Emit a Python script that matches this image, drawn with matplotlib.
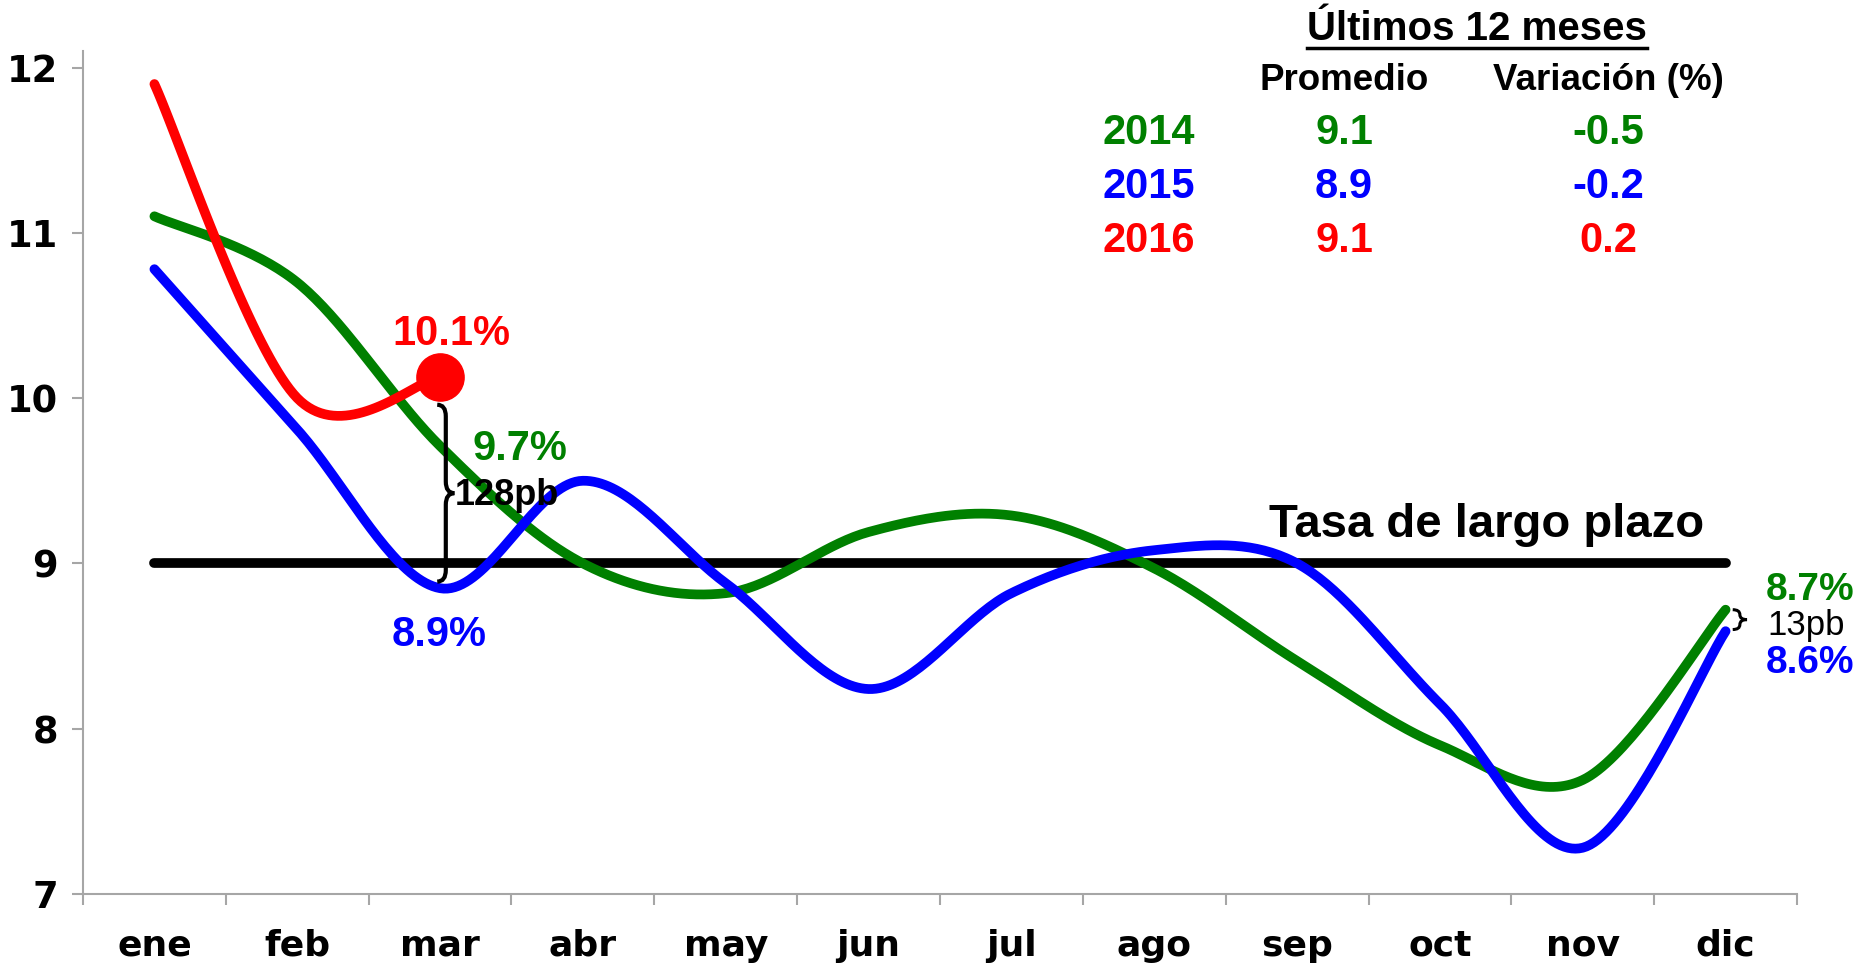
import numpy as np
import matplotlib
matplotlib.use('Agg')
import matplotlib.pyplot as plt
from matplotlib.path import Path
from matplotlib.patches import PathPatch
from matplotlib.lines import Line2D

# Data
meses = ['ene', 'feb', 'mar', 'abr', 'may', 'jun', 'jul', 'ago', 'sep', 'oct', 'nov', 'dic']
tasa_2014 = [11.1, 10.7, 9.71, 9.0, 8.82, 9.19, 9.29, 8.97, 8.41, 7.9, 7.69, 8.72]
tasa_2015 = [10.78, 9.81, 8.85, 9.5, 8.88, 8.24, 8.82, 9.08, 9.0, 8.15, 7.28, 8.59]
tasa_2016 = [11.9, 10.0, 10.13]
tasa_largo_plazo = 9.0

anios = ['2014', '2015', '2016']
promedio = ['9.1', '8.9', '9.1']
variacion = ['-0.5', '-0.2', '0.2']
colores = ['#008000', '#0000ff', '#ff0000']

W, H = 1866, 969
font = 'Liberation Sans'


def smooth(xs, ys, n=40):
    # Excel-like smoothed line (Catmull-Rom as cubic Bezier)
    pts = np.column_stack([xs, ys]).astype(float)
    out = [pts[0]]
    for i in range(len(pts) - 1):
        p0 = pts[max(i - 1, 0)]
        p1 = pts[i]
        p2 = pts[i + 1]
        p3 = pts[min(i + 2, len(pts) - 1)]
        c1 = p1 + (p2 - p0) / 6
        c2 = p2 - (p3 - p1) / 6
        t = np.linspace(0, 1, n)[1:, None]
        seg = (1 - t)**3 * p1 + 3 * (1 - t)**2 * t * c1 + 3 * (1 - t) * t**2 * c2 + t**3 * p2
        out.extend(seg)
    out = np.array(out)
    return out[:, 0], out[:, 1]


def brace(ax, x0, ytop, ybot, w, r, lw):
    ym = (ytop + ybot) / 2
    verts = [(x0 - w, ytop), (x0, ytop), (x0, ytop - r), (x0, ym + r),
             (x0, ym), (x0 + w, ym), (x0, ym), (x0, ym - r),
             (x0, ybot + r), (x0, ybot), (x0 - w, ybot)]
    codes = [Path.MOVETO, Path.CURVE3, Path.CURVE3, Path.LINETO,
             Path.CURVE3, Path.CURVE3, Path.CURVE3, Path.CURVE3,
             Path.LINETO, Path.CURVE3, Path.CURVE3]
    ax.add_patch(PathPatch(Path(verts, codes), facecolor='none',
                           edgecolor='black', lw=lw, zorder=6))


fig = plt.figure(figsize=(W / 100, H / 100), dpi=100)
ax = fig.add_axes([83 / W, 1 - 894 / H, (1797 - 83) / W, (894 - 51) / H])

x = np.arange(len(meses))
lw = 7

ax.plot([0, len(meses) - 1], [tasa_largo_plazo, tasa_largo_plazo], color='black',
        lw=lw, solid_capstyle='round', zorder=2)
for serie, col, z in [(tasa_2014, colores[0], 3), (tasa_2015, colores[1], 4), (tasa_2016, colores[2], 5)]:
    sx, sy = smooth(x[:len(serie)], serie)
    ax.plot(sx, sy, color=col, lw=lw, solid_capstyle='round', zorder=z)

ax.plot(len(tasa_2016) - 1, tasa_2016[-1], 'o', color='#ff0000', markersize=34, zorder=6)

ax.set_xlim(-0.5, 11.5)
ax.set_ylim(7, 12.1)
ax.set_yticks([7, 8, 9, 10, 11, 12])
ax.set_xticks(x)
ax.set_xticklabels(meses)
ax.set_xticks(np.arange(-0.5, 12, 1), minor=True)

for s in ['top', 'right']:
    ax.spines[s].set_visible(False)
for s in ['left', 'bottom']:
    ax.spines[s].set_color('#a6a6a6')
    ax.spines[s].set_linewidth(1.5)

ax.tick_params(axis='x', which='major', length=0, pad=25)
ax.tick_params(axis='x', which='minor', length=8, width=1.5, color='#a6a6a6', direction='out')
ax.tick_params(axis='y', length=8, width=1.5, color='#a6a6a6', direction='out', pad=10)
for lab in ax.get_xticklabels():
    lab.set_fontfamily('DejaVu Sans')
    lab.set_fontweight('bold')
    lab.set_fontsize(26)
for lab in ax.get_yticklabels():
    lab.set_fontfamily('DejaVu Sans')
    lab.set_fontweight('bold')
    lab.set_fontsize(26.5)

# Annotations
ax.text(2.08, 10.385, '10.1%', color='#ff0000', fontsize=30, fontweight='bold', family=font,
        ha='center', va='center', zorder=7)
ax.text(2.56, 9.695, '9.7%', color='#008000', fontsize=30, fontweight='bold', family=font,
        ha='center', va='center', zorder=7)
ax.text(1.99, 8.565, '8.9%', color='#0000ff', fontsize=30, fontweight='bold', family=font,
        ha='center', va='center', zorder=7)
ax.text(2.1, 9.41, '128pb', color='black', fontsize=26, fontweight='bold', family=font,
        ha='left', va='center', zorder=7)
brace(ax, 2.04, 9.96, 8.89, 0.06, 0.07, 3)

ax.text(9.33, 9.235, 'Tasa de largo plazo', color='black', fontsize=34, fontweight='bold',
        family=font, ha='center', va='center', zorder=7)

ax.text(11.28, 8.84, '8.7%', color='#008000', fontsize=28, fontweight='bold', family=font,
        ha='left', va='center', clip_on=False)
ax.text(11.29, 8.625, '13pb', color='black', fontsize=25, family=font,
        ha='left', va='center', clip_on=False)
ax.text(11.28, 8.40, '8.6%', color='#0000ff', fontsize=28, fontweight='bold', family=font,
        ha='left', va='center', clip_on=False)
brace(ax, 11.1, 8.72, 8.6, 0.05, 0.03, 2.2)

# Table "Últimos 12 meses"
title = fig.text(1477 / W, 1 - 29 / H, 'Últimos 12 meses', fontsize=29, fontweight='bold',
                 family=font, ha='center', va='center')
fig.text(1344 / W, 1 - 81 / H, 'Promedio', fontsize=26.5, fontweight='bold', family=font,
         ha='center', va='center')
fig.text(1608 / W, 1 - 81 / H, 'Variación (%)', fontsize=26.5, fontweight='bold', family=font,
         ha='center', va='center')
filas_y = [133, 187, 241]
for i in range(3):
    yy = 1 - filas_y[i] / H
    fig.text(1149 / W, yy, anios[i], color=colores[i], fontsize=30, fontweight='bold',
             family=font, ha='center', va='center')
    fig.text(1344 / W, yy, promedio[i], color=colores[i], fontsize=30, fontweight='bold',
             family=font, ha='center', va='center')
    fig.text(1608 / W, yy, variacion[i], color=colores[i], fontsize=30, fontweight='bold',
             family=font, ha='center', va='center')

# underline for the title
fig.canvas.draw()
bb = title.get_window_extent()
fig.add_artist(Line2D([bb.x0 / W, bb.x1 / W], [1 - 48 / H, 1 - 48 / H],
                      color='black', lw=2.5, transform=fig.transFigure))

fig.savefig('out.png', dpi=100)
